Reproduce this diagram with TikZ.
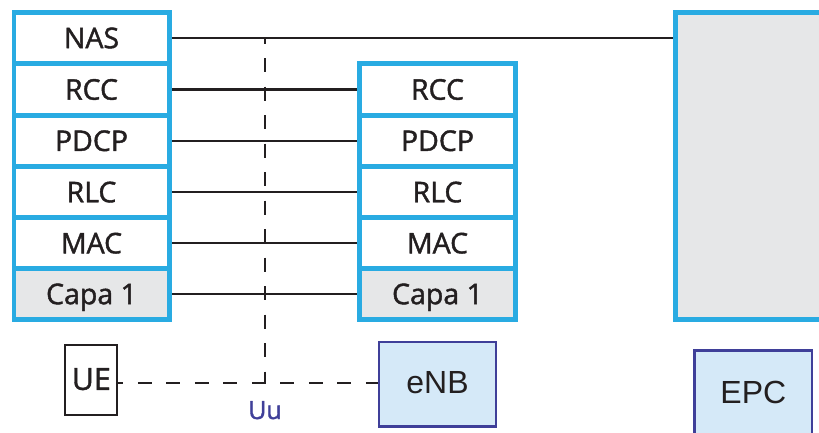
\documentclass[tikz,border=0pt]{standalone}
\usepackage{fontspec}
\setmainfont{Open Sans}
\newfontfamily\stackfont[FakeBold=1.4]{Open Sans}
\newfontfamily\boxfont{Liberation Sans}
\usetikzlibrary{backgrounds}

\definecolor{stackblue}{HTML}{29ABE2}
\definecolor{cellgrey}{HTML}{E6E7E8}
\definecolor{nodefill}{HTML}{D5E9F8}
\definecolor{nodeedge}{HTML}{3F3F99}
\definecolor{ink}{HTML}{231F20}

\begin{document}
\begin{tikzpicture}[x=1pt, y=-1pt,
  every node/.style={inner sep=0pt, outer sep=0pt, text=ink},
  layerbox/.style={rectangle, fill=white, minimum width=151pt, minimum height=46.5pt,
    font=\stackfont\fontsize{28.5}{34}\selectfont, text height=20.35pt, text depth=0pt},
  physbox/.style={layerbox, fill=cellgrey},
  corebox/.style={rectangle, draw=stackblue, fill=cellgrey, line width=5pt},
  netbox/.style={rectangle, draw=nodeedge, fill=nodefill, line width=2.4pt},
  uebox/.style={rectangle, draw=ink, fill=white, line width=2pt,
    font=\stackfont\fontsize{30.4}{36}\selectfont, text height=21.7pt, text depth=2pt},
  link/.style={draw=ink, line width=2.4pt},
  radio/.style={draw=ink, line width=2.2pt, dash pattern=on 14pt off 14.5pt, dash phase=8pt},
]
\clip (0,0) rectangle (819,432);

% blue frames of the two protocol stacks
\fill[stackblue] (12,10) rectangle (172,322);
\fill[stackblue] (357,60.5) rectangle (517.5,322);

% UE protocol stack
\node[layerbox] (ueNAS)  at (91.5,38)    {NAS};
\node[layerbox] (ueRCC)  at (91.5,89.5)  {RCC};
\node[layerbox] (uePDCP) at (91.5,140.8) {PDCP};
\node[layerbox] (ueRLC)  at (91.5,192.1) {RLC};
\node[layerbox] (ueMAC)  at (91.5,243.2) {MAC};
\node[physbox]  (ueL1)   at (91.5,294)   {Capa 1};

% eNB protocol stack
\node[layerbox] (enRCC)  at (437.5,89.5)  {RCC};
\node[layerbox] (enPDCP) at (437.5,140.8) {PDCP};
\node[layerbox] (enRLC)  at (437.5,192.1) {RLC};
\node[layerbox] (enMAC)  at (437.5,243.2) {MAC};
\node[physbox]  (enL1)   at (437.5,294)   {Capa 1};

% core network block
\node[corebox, anchor=north west, minimum width=170pt, minimum height=307pt] (core) at (675.5,12.5) {};

% network elements
\node[uebox, minimum width=52pt, minimum height=70pt] (ue) at (91.3,380) {UE};
\node[netbox, minimum width=116.5pt, minimum height=84.5pt,
  font=\boxfont\fontsize{32}{38}\selectfont, text height=22.9pt, text depth=4.6pt] (enb) at (437.5,384.3) {eNB};
\node[netbox, anchor=north, minimum width=117.6pt, minimum height=96pt,
  font=\boxfont\fontsize{32}{38}\selectfont, text height=22.9pt, text depth=13.6pt] (epc) at (753.3,350.5) {EPC};

% air interface
\coordinate (tap) at (265,38);
\coordinate (uu) at (265,383);
\node[anchor=base, text=nodeedge, font=\stackfont\fontsize{25}{30}\selectfont] (uuLabel) at (265,419) {Uu};

\begin{scope}[on background layer]
  \draw[link] (ueNAS.east) -- (ueNAS.east -| core.west);
  \foreach \a/\b in {ueRCC/enRCC, uePDCP/enPDCP, ueRLC/enRLC, ueMAC/enMAC, ueL1/enL1}
    \draw[link] (\a.east) -- (\b.west);
  \draw[radio, dash phase=8.5pt] (tap) -- (uu);
  \draw[radio] (ue.east |- uu) -- (enb.west |- uu);
\end{scope}
\end{tikzpicture}
\end{document}
